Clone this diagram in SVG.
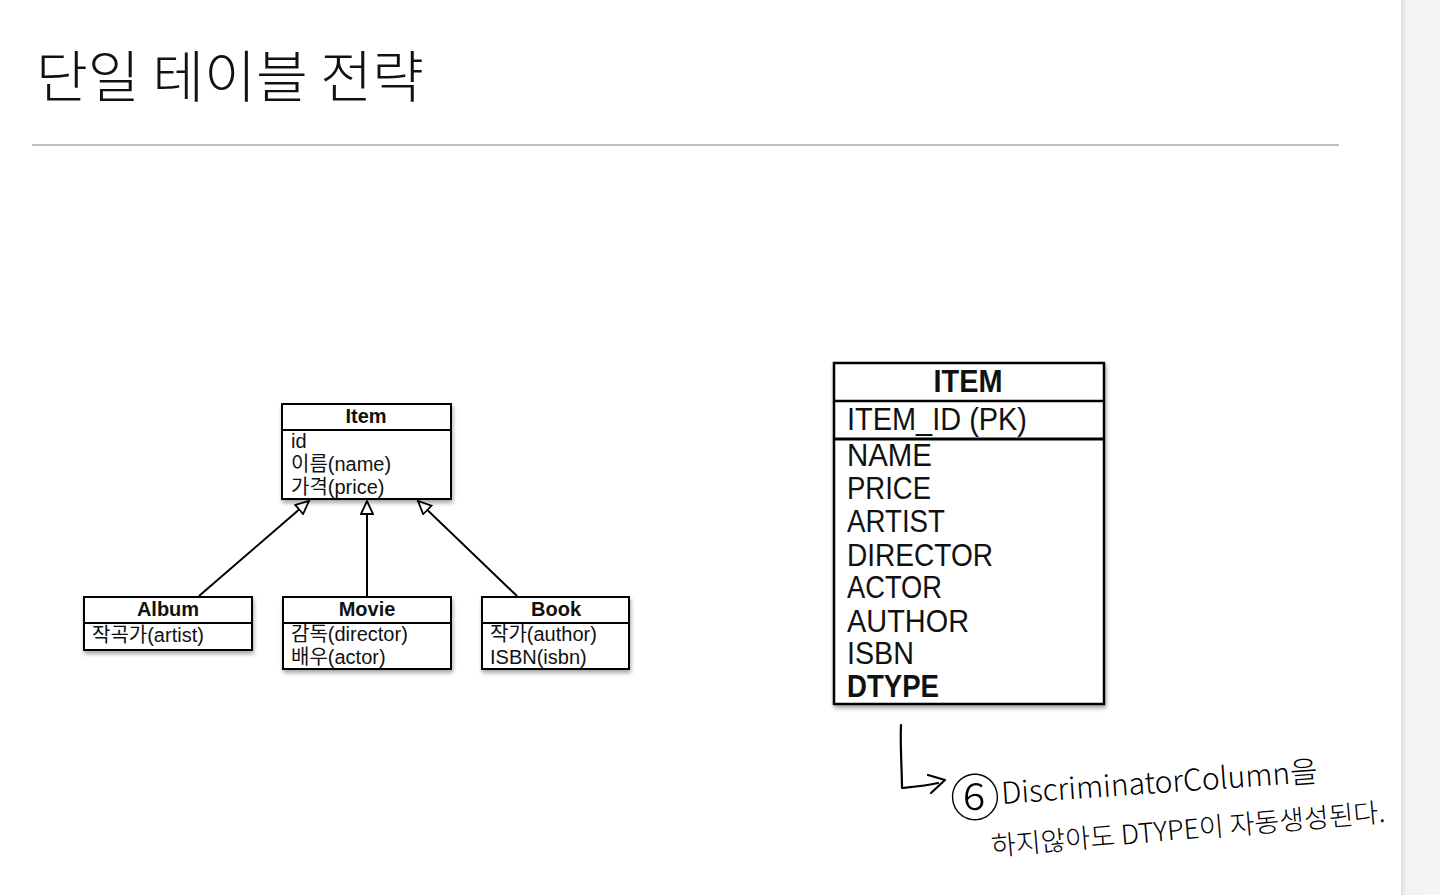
<svg xmlns="http://www.w3.org/2000/svg" width="1440" height="895" viewBox="0 0 1440 895">
<defs>
<filter id="sh" x="-10%" y="-10%" width="125%" height="125%">
<feGaussianBlur in="SourceAlpha" stdDeviation="2"/>
<feOffset dx="1" dy="3" result="o"/>
<feComponentTransfer><feFuncA type="linear" slope="0.35"/></feComponentTransfer>
<feMerge><feMergeNode/><feMergeNode in="SourceGraphic"/></feMerge>
</filter>
<marker id="tri" markerWidth="16" markerHeight="14" refX="14" refY="7" orient="auto" markerUnits="userSpaceOnUse">
<path d="M1,1 L14,7 L1,13 Z" fill="#fff" stroke="#000" stroke-width="1.8"/>
</marker>
<linearGradient id="pg" x1="0" x2="1" y1="0" y2="0">
<stop offset="0" stop-color="#dcdcdc"/>
<stop offset="0.15" stop-color="#f3f3f3"/>
<stop offset="1" stop-color="#f5f5f5"/>
</linearGradient>
</defs>
<style>
.box{fill:#fff;stroke:#000;stroke-width:2}
.sep{stroke:#000;stroke-width:1.8}
.t{font-family:"Liberation Sans","Noto Sans CJK KR",sans-serif;fill:#111}
.hd{font-size:20px;font-weight:bold;text-anchor:middle}
.at{font-size:20px}
.big{font-family:"Liberation Sans","Noto Sans CJK KR",sans-serif;font-size:31px;fill:#111}
.hand{font-family:"Noto Sans CJK KR",sans-serif;font-weight:300;fill:#000}
.conn{stroke:#000;stroke-width:2;fill:none}
</style>
<rect width="1440" height="895" fill="#fff"/>
<rect x="1401" y="0" width="39" height="895" fill="url(#pg)"/>
<text x="36" y="97" font-family="Noto Sans CJK KR, sans-serif" font-size="56" font-weight="300" fill="#111" textLength="388" lengthAdjust="spacingAndGlyphs">단일 테이블 전략</text>
<line x1="32" y1="145" x2="1339" y2="145" stroke="#a9a9a9" stroke-width="1.5"/>

<g id="connectors">
<line class="conn" x1="199" y1="596" x2="309" y2="501" marker-end="url(#tri)"/>
<line class="conn" x1="367" y1="596" x2="367" y2="501" marker-end="url(#tri)"/>
<line class="conn" x1="517" y1="596" x2="418" y2="501" marker-end="url(#tri)"/>
</g>

<g id="node-item">
<rect class="box" x="282" y="404" width="169" height="95" filter="url(#sh)"/>
<line class="sep" x1="282" y1="430" x2="451" y2="430"/>
<text class="t hd" x="366" y="423">Item</text>
<text class="t at" x="291" y="448">id</text>
<text class="t at" x="291" y="471">이름(name)</text>
<text class="t at" x="291" y="494">가격(price)</text>
</g>

<g id="node-album">
<rect class="box" x="84" y="597" width="168" height="53" filter="url(#sh)"/>
<line class="sep" x1="84" y1="623" x2="252" y2="623"/>
<text class="t hd" x="168" y="616">Album</text>
<text class="t at" x="92" y="642">작곡가(artist)</text>
</g>

<g id="node-movie">
<rect class="box" x="283" y="597" width="168" height="72" filter="url(#sh)"/>
<line class="sep" x1="283" y1="623" x2="451" y2="623"/>
<text class="t hd" x="367" y="616">Movie</text>
<text class="t at" x="291" y="641">감독(director)</text>
<text class="t at" x="291" y="664">배우(actor)</text>
</g>

<g id="node-book">
<rect class="box" x="482" y="597" width="147" height="72" filter="url(#sh)"/>
<line class="sep" x1="482" y1="623" x2="629" y2="623"/>
<text class="t hd" x="556" y="616">Book</text>
<text class="t at" x="490" y="641">작가(author)</text>
<text class="t at" x="490" y="664">ISBN(isbn)</text>
</g>

<g id="node-ITEM">
<rect x="834" y="363" width="270" height="341" fill="#fff" stroke="#000" stroke-width="2.5" filter="url(#sh)"/>
<line x1="834" y1="401" x2="1104" y2="401" stroke="#000" stroke-width="2.5"/>
<line x1="834" y1="439" x2="1104" y2="439" stroke="#000" stroke-width="3"/>
<text class="big" x="968" y="392" text-anchor="middle" font-weight="bold" textLength="69" lengthAdjust="spacingAndGlyphs">ITEM</text>
<text class="big" x="847" y="430" textLength="180" lengthAdjust="spacingAndGlyphs">ITEM_ID (PK)</text>
<text class="big" x="847" y="466" textLength="85" lengthAdjust="spacingAndGlyphs">NAME</text>
<text class="big" x="847" y="499" textLength="84" lengthAdjust="spacingAndGlyphs">PRICE</text>
<text class="big" x="847" y="532" textLength="98" lengthAdjust="spacingAndGlyphs">ARTIST</text>
<text class="big" x="847" y="566" textLength="146" lengthAdjust="spacingAndGlyphs">DIRECTOR</text>
<text class="big" x="847" y="598" textLength="95" lengthAdjust="spacingAndGlyphs">ACTOR</text>
<text class="big" x="847" y="632" textLength="122" lengthAdjust="spacingAndGlyphs">AUTHOR</text>
<text class="big" x="847" y="664" textLength="67" lengthAdjust="spacingAndGlyphs">ISBN</text>
<text class="big" x="847" y="697" font-weight="bold" textLength="92" lengthAdjust="spacingAndGlyphs">DTYPE</text>
</g>

<g id="annotation">
<path d="M901,725 C900,745 902,770 902,788 C912,787 925,786 938,783 M928,775 L945,780 L931,793" fill="none" stroke="#000" stroke-width="2.2" stroke-linecap="round" stroke-linejoin="round"/>
<text class="hand" x="950" y="816" font-size="50">⑥</text>
<text class="hand" x="1002" y="804" font-size="30" transform="rotate(-4 1002 804)">DiscriminatorColumn을</text>
<text class="hand" x="992" y="856" font-size="27" transform="rotate(-5 992 856)">하지않아도 DTYPE이 자동생성된다.</text>
</g>
</svg>
